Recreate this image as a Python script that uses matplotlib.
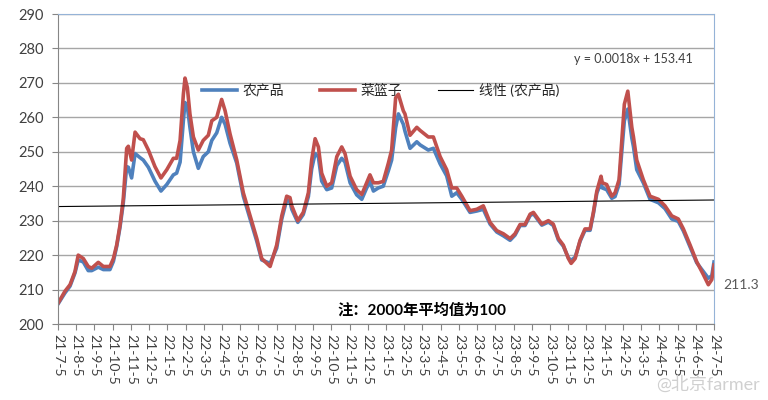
import matplotlib
matplotlib.use("Agg")
import matplotlib.pyplot as plt
import numpy as np

plt.rcParams['font.family'] = ['Lato', 'Noto Sans CJK SC', 'DejaVu Sans']

# month offsets from 21-7-5
months = [0.00, 0.38, 0.66, 0.93, 1.11, 1.39, 1.66, 1.85, 2.21, 2.49, 2.85, 3.04, 3.22, 3.40, 3.58,
          3.77, 3.86, 4.04, 4.23, 4.50, 4.68, 4.96, 5.32, 5.65, 5.97, 6.33, 6.51, 6.70, 6.88, 6.97,
          7.10, 7.24, 7.43, 7.70, 7.97, 8.25, 8.44, 8.71, 8.98, 9.17, 9.44, 9.81, 10.17, 10.54, 10.91,
          11.18, 11.64, 12.00, 12.28, 12.55, 12.73, 12.83, 13.16, 13.46, 13.74, 13.92, 14.11, 14.29, 14.47, 14.75,
          15.02, 15.30, 15.57, 15.75, 16.03, 16.39, 16.67, 16.94, 17.12, 17.31, 17.58, 17.85, 18.13, 18.31, 18.53,
          18.68, 18.95, 19.04, 19.32, 19.69, 19.87, 20.32, 20.60, 20.97, 21.33, 21.61, 21.88, 22.16, 22.61, 22.98,
          23.34, 23.71, 24.08, 24.44, 24.81, 25.08, 25.36, 25.63, 25.91, 26.09, 26.55, 26.91, 27.18, 27.46, 27.73,
          28.01, 28.16, 28.38, 28.65, 28.92, 29.20, 29.38, 29.57, 29.80, 29.87, 30.11, 30.39, 30.57, 30.79, 30.94,
          31.08, 31.27, 31.49, 31.58, 31.76, 32.12, 32.49, 32.95, 33.31, 33.68, 34.04, 34.32, 34.69, 35.05, 35.42,
          35.69, 35.88, 36.00]

cailanzi = [206.0, 209.5, 211.4, 215.2, 220.0, 219.0, 216.7, 216.2, 217.9, 216.7, 216.7, 219.0, 222.9, 228.6, 236.2,
            251.0, 251.6, 247.6, 255.7, 253.8, 253.5, 250.5, 245.7, 242.4, 244.8, 248.1, 248.1, 253.3, 266.7, 271.4,
            268.6, 261.0, 254.3, 250.5, 253.3, 254.8, 259.0, 260.0, 265.2, 261.9, 255.2, 247.6, 238.1, 231.4, 224.8,
            219.0, 216.7, 222.9, 231.4, 237.1, 236.7, 234.3, 230.0, 232.4, 238.1, 247.6, 253.8, 251.4, 243.8, 240.0,
            241.0, 248.6, 251.4, 249.5, 242.9, 239.0, 237.6, 241.0, 243.3, 241.0, 241.0, 241.4, 246.7, 250.5, 265.7,
            266.7, 261.9, 261.0, 254.8, 257.1, 256.2, 254.3, 254.3, 248.6, 244.8, 239.5, 239.5, 237.1, 232.9, 233.3,
            234.3, 229.5, 227.1, 226.2, 224.8, 226.2, 228.9, 228.9, 231.9, 232.4, 229.0, 230.0, 229.0, 224.8, 222.9,
            219.0, 217.6, 219.0, 224.3, 227.6, 227.6, 232.4, 238.6, 242.9, 241.0, 240.5, 237.1, 238.1, 241.9, 253.3,
            263.8, 267.6, 257.1, 254.3, 247.6, 241.9, 237.1, 236.2, 234.3, 231.4, 230.5, 227.6, 222.9, 218.1, 214.3,
            211.4, 212.9, 217.1]

nongchanpin = [205.8, 209.0, 211.0, 214.8, 218.6, 218.0, 215.5, 215.5, 216.5, 215.8, 215.8, 218.2, 222.5, 228.0, 235.0,
               245.7, 245.5, 242.4, 249.5, 248.3, 247.6, 245.5, 241.5, 238.6, 240.5, 243.3, 243.8, 247.0, 259.0, 264.3,
               263.0, 257.1, 250.0, 245.2, 248.6, 250.0, 253.3, 255.5, 260.0, 258.0, 252.5, 246.7, 237.1, 230.5, 224.0,
               218.6, 217.6, 222.0, 230.5, 236.0, 235.5, 233.3, 229.5, 231.8, 237.0, 245.0, 249.5, 248.5, 241.5, 239.0,
               239.5, 246.0, 248.1, 247.0, 241.0, 237.5, 236.2, 239.5, 241.4, 238.6, 239.5, 240.0, 244.5, 247.6, 257.0,
               261.0, 258.0, 256.0, 251.0, 252.9, 252.0, 250.5, 251.0, 246.5, 243.0, 237.1, 238.1, 236.2, 232.4, 232.8,
               233.3, 229.0, 226.7, 225.6, 224.3, 225.8, 228.6, 228.6, 231.5, 232.0, 228.7, 229.6, 228.6, 224.4, 222.6,
               219.2, 218.5, 219.4, 224.0, 227.2, 227.2, 232.0, 238.0, 241.0, 239.5, 239.0, 236.5, 237.0, 240.5, 250.0,
               259.0, 262.4, 254.0, 251.5, 244.8, 241.0, 236.2, 235.2, 233.5, 230.5, 229.8, 227.0, 222.3, 217.8, 215.2,
               213.3, 214.0, 218.0]

trend_months = [0, 36]
trend_values = [234.1, 236.0]

tick_labels = ['21-7-5', '21-8-5', '21-9-5', '21-10-5', '21-11-5', '21-12-5',
               '22-1-5', '22-2-5', '22-3-5', '22-4-5', '22-5-5', '22-6-5', '22-7-5', '22-8-5',
               '22-9-5', '22-10-5', '22-11-5', '22-12-5',
               '23-1-5', '23-2-5', '23-3-5', '23-4-5', '23-5-5', '23-6-5', '23-7-5', '23-8-5',
               '23-9-5', '23-10-5', '23-11-5', '23-12-5',
               '24-1-5', '24-2-5', '24-3-5', '24-4-5', '24-5-5', '24-6-5', '24-7-5']

last_label = 211.3

fig = plt.figure(figsize=(7.68, 4.0), dpi=100)
ax = fig.add_axes([58/768, 1 - 324/400, (714 - 58)/768, (324 - 14)/400])

ax.set_xlim(0, 36)
ax.set_ylim(200, 290)
ax.set_yticks(np.arange(200, 291, 10))
ax.set_xticks(np.arange(len(tick_labels)))
ax.set_xticklabels(tick_labels, rotation=-90, fontsize=10, color='#404040')
ax.tick_params(axis='y', labelsize=10.5, labelcolor='#404040', length=4, color='#868686', pad=6)
ax.tick_params(axis='x', length=4, color='#868686', pad=3)
ax.grid(axis='y', color='#A6A6A6', linewidth=1.0)
ax.set_axisbelow(True)
for s in ['left', 'bottom']:
    ax.spines[s].set_color('#868686')
for s in ['top', 'right']:
    ax.spines[s].set_color('#95B3D7')

l1, = ax.plot(months, nongchanpin, color='#4F81BD', linewidth=2.6, label='农产品', solid_joinstyle='round')
l2, = ax.plot(months, cailanzi, color='#C0504D', linewidth=2.6, label='菜篮子', solid_joinstyle='round')
l3, = ax.plot(trend_months, trend_values, color='black', linewidth=0.8, label='线性 (农产品)')

leg = ax.legend(handles=[l1, l2, l3], loc='center left', bbox_to_anchor=(0.22, 0.755), ncol=3,
                frameon=False, fontsize=10, handlelength=2.5, columnspacing=2.6, handletextpad=0.4,
                borderpad=0.0, borderaxespad=0.0)
for t in leg.get_texts():
    t.set_color('#262626')

ax.text(0.968, 0.855, 'y = 0.0018x + 153.41', transform=ax.transAxes, ha='right', va='center',
        fontsize=9, color='#404040')
ax.text(0.555, 0.045, '注：2000年平均值为100', transform=ax.transAxes, ha='center', va='center',
        fontsize=11, fontweight='bold', color='black')
ax.annotate(f'{last_label}', xy=(36, last_label), xytext=(7, 0), textcoords='offset points',
            ha='left', va='center', fontsize=10, color='#595959', annotation_clip=False)

fig.text(0.99, 0.04, '@北京farmer', ha='right', va='center', fontsize=13, color='#D0D0D0')

fig.savefig('out.png', dpi=100)
